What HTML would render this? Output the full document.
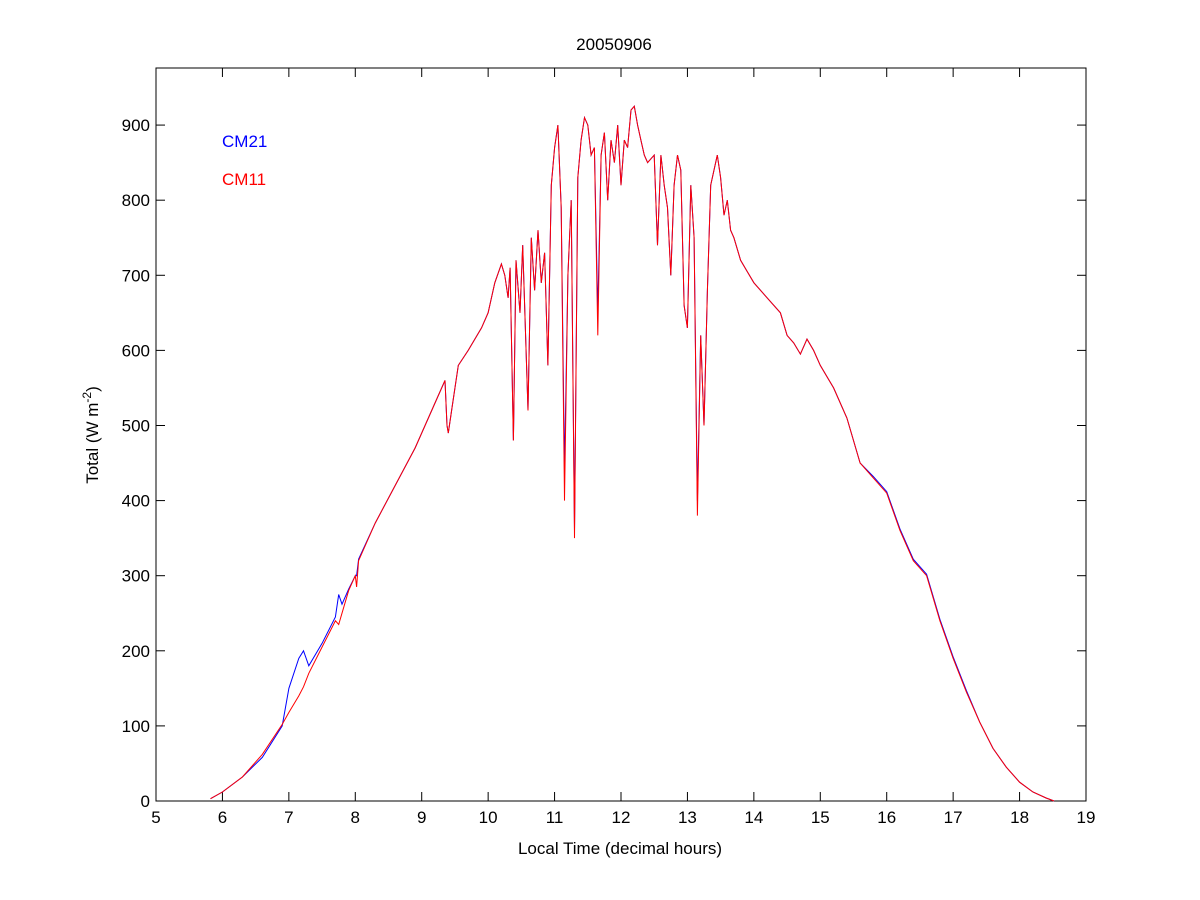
<!DOCTYPE html>
<html><head><meta charset="utf-8"><style>
body{margin:0;background:#fff;}
svg{display:block;font-family:"Liberation Sans",Arial,sans-serif;}
</style></head><body>
<svg id="chart" width="1200" height="900">
<rect width="1200" height="900" fill="#fff"/>
<text x="614" y="50" font-size="17" text-anchor="middle">20050906</text>
<text x="620" y="854" font-size="17" text-anchor="middle">Local Time (decimal hours)</text>
<text transform="translate(98,435) rotate(-90)" font-size="17" text-anchor="middle">Total (W m<tspan dy="-7" font-size="12">-2</tspan><tspan dy="7">)</tspan></text>
<text x="222" y="147" font-size="17" fill="#0000ff">CM21</text>
<text x="222" y="185" font-size="17" fill="#ff0000">CM11</text>
<g id="axes"></g>
<g id="series"></g>
</svg>
<script>
const times=[5.82,6.0,6.3,6.6,6.9,7.0,7.15,7.22,7.3,7.5,7.7,7.75,7.8,7.9,8.0,8.02,8.05,8.3,8.6,8.9,9.2,9.35,9.38,9.4,9.45,9.55,9.7,9.9,10.0,10.1,10.2,10.25,10.3,10.33,10.38,10.42,10.48,10.52,10.6,10.65,10.7,10.75,10.8,10.85,10.9,10.95,11.0,11.05,11.1,11.15,11.2,11.25,11.3,11.35,11.4,11.45,11.5,11.55,11.6,11.65,11.7,11.75,11.8,11.85,11.9,11.95,12.0,12.05,12.1,12.15,12.2,12.25,12.3,12.35,12.4,12.5,12.55,12.6,12.65,12.7,12.75,12.8,12.85,12.9,12.95,13.0,13.05,13.1,13.15,13.2,13.25,13.3,13.35,13.4,13.45,13.5,13.55,13.6,13.65,13.7,13.8,13.9,14.0,14.2,14.4,14.5,14.6,14.7,14.8,14.9,15.0,15.2,15.4,15.6,15.8,16.0,16.2,16.4,16.6,16.8,17.0,17.2,17.4,17.6,17.8,18.0,18.2,18.4,18.52];
const cm11=[3,12,32,62,102,118,140,152,170,205,240,235,250,280,300,285,320,370,420,470,530,560,500,490,520,580,600,630,650,690,715,700,670,710,480,720,650,740,520,750,680,760,690,730,580,820,870,900,790,400,700,800,350,830,880,910,900,860,870,620,860,890,800,880,850,900,820,880,870,920,925,900,880,860,850,860,740,860,820,790,700,820,860,840,660,630,820,750,380,620,500,680,820,840,860,830,780,800,760,750,720,705,690,670,650,620,610,595,615,600,580,550,510,450,430,410,360,320,300,240,190,145,105,70,45,25,12,4,0];
const cm21=[3,12,32,58,100,150,190,200,180,210,245,275,262,282,300,300,322,370,420,470,530,560,500,490,520,580,600,630,650,690,715,700,670,710,480,720,650,740,520,750,680,760,690,730,580,820,870,900,790,440,700,800,360,830,880,910,900,860,870,650,860,890,800,880,850,900,820,880,870,920,925,900,880,860,850,860,740,860,820,790,700,820,860,840,660,630,820,750,400,620,500,680,820,840,860,830,780,800,760,750,720,705,690,670,650,620,610,595,615,600,580,550,510,450,432,412,362,322,302,242,192,147,105,70,45,25,12,4,0];
const xTicks=[5,6,7,8,9,10,11,12,13,14,15,16,17,18,19];
const yTicks=[0,100,200,300,400,500,600,700,800,900];
const L=156,R=1086,T=68,B=801,XMIN=5,XMAX=19,YMAX=976;
const sx=v=>L+(v-XMIN)/(XMAX-XMIN)*(R-L);
const sy=v=>B-v/YMAX*(B-T);
const NS="http://www.w3.org/2000/svg";
const ax=document.getElementById('axes');
function mk(tag,attrs,parent){const e=document.createElementNS(NS,tag);for(const k in attrs)e.setAttribute(k,attrs[k]);parent.appendChild(e);return e;}
const box=mk('rect',{x:L,y:T,width:R-L,height:B-T,fill:'none',stroke:'#000','stroke-width':1},ax);


xTicks.forEach(v=>{const x=sx(v);
 mk('line',{x1:x,x2:x,y1:B,y2:B-9,stroke:'#000'},ax);
 mk('line',{x1:x,x2:x,y1:T,y2:T+9,stroke:'#000'},ax);
 const t=mk('text',{x:x,y:B+22,'font-size':17,'text-anchor':'middle'},ax);t.textContent=v;
 
 
});
yTicks.forEach(v=>{const y=sy(v);
 mk('line',{x1:L,x2:L+9,y1:y,y2:y,stroke:'#000'},ax);
 mk('line',{x1:R,x2:R-9,y1:y,y2:y,stroke:'#000'},ax);
 const t=mk('text',{x:L-6,y:y+6,'font-size':17,'text-anchor':'end'},ax);t.textContent=v;
 
 
});
const sg=document.getElementById('series');
function line(vals,color,name){
 const d=times.map((t,i)=>(i?'L':'M')+sx(t).toFixed(1)+','+sy(vals[i]).toFixed(1)).join('');
 const p=mk('path',{d:d,fill:'none',stroke:color,'stroke-width':1},sg);
 
 
}
line(cm21,'#0000ff','series-cm21');
line(cm11,'#ff0000','series-cm11');
</script>
</body></html>
